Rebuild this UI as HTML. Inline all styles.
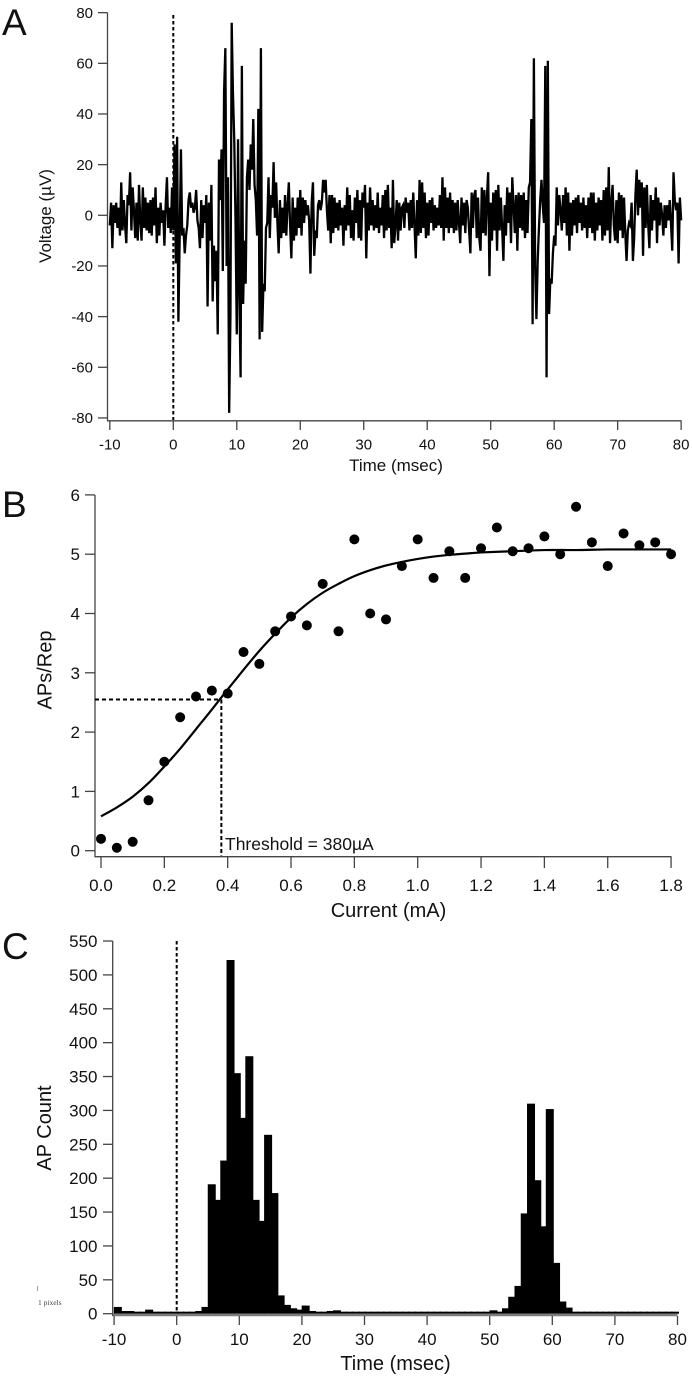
<!DOCTYPE html>
<html>
<head>
<meta charset="utf-8">
<title>Neural recording figure</title>
<style>
html,body{margin:0;padding:0;background:#fff;width:692px;height:1376px;overflow:hidden}
svg{display:block}
text{font-family:"Liberation Sans",Arial,sans-serif;fill:#111}
</style>
</head>
<body>
<svg id="figure" width="692" height="1376" viewBox="0 0 692 1376" xmlns="http://www.w3.org/2000/svg"></svg>
<script>
// Panel A data
const traceStart = -10;
const traceStep = 0.2;
const traceVoltage = [
-4,5,-13,4,-3, 5,-5,3,-8,13, -6,6,-4,-11,8, 4,17,-6,11,2, -9,5,-10,12,-2,
-10,11,-5,7,-6, 5,-7,6,-8,7, -4,11,-11,3,-8, 5,-3,2,-12,4, 15,-5,3,-7,11,
-6,28,-19,31,-42, -10,26,-8,-5,-15, -8,-4,6,9,3, 5,1,3,10,-2, -5,-13,6,-9,4,
-3,8,-36,5,-10, 12,-34,-12,-26,-14, -47,22,6,26,-22, 49,66,-20,15,-78, -40,76,48,30,-2,
-47,30,-30,-64,59, -35,-10,-27,15,22, 10,28,18,38,12, 6,-8,42,-49,66, -46,-27,-30,-5,-3,
15,-9,8,3,21, -1,13,-3,-15,6, -9,3,-7,8,-8, 4,13,-4,-17,7, -10,3,-8,7,-5,
10,-8,7,-3,6, 0,4,-2,-23,5, 13,-16,-6,-9,4, 6,2,5,14,9, 14,2,-6,8,-11,
8,-7,7,-5,5, -6,6,-4,3,-12, 4,-6,11,-4,8, -9,2,-10,7,-3, 10,-9,6,-10,9,
3,12,-17,5,-6, 11,-4,6,-6,4, -5,9,-7,3,-4, 8,-9,10,-6,12, -5,3,-13,14,-11,
-4,6,-10,5,-6, 3,4,-5,7,1, 5,-6,6,-5,9, -4,-17,6,-8,14, -7,13,-5,9,-9,
5,-8,6,-3,7, -6,4,-5,3,-4, 8,-5,15,-10,11, -5,7,-7,9,-5, 6,-7,5,-6,6,
-3,-11,7,-4,5, -7,6,3,-6,-15, 9,-5,8,10,-9, 7,-9,-14,11,-7, 10,-8,7,17,-24,
5,-10,9,-6,10, -14,12,-6,7,-5, -18,4,-8,11,-3, 9,-11,15,4,-7, 8,-14,9,-5,8,
-6,9,-9,6,-7, 11,13,38,-43,62, -20,-41,-18,-5,6, 14,4,-3,59,-64, 61,-39,-25,-27,-15,
-8,-12,11,-4,8, 2,-6,8,-3,11, -8,9,-14,5,-8, 6,-4,7,-7,8, -3,5,-6,7,-5,
4,-9,7,-5,9, -7,9,-10,5,-6, 7,-4,6,-10,10, -8,11,-6,19,-11, 5,12,-4,-10,6,
-11,9,-6,8,-9, 7,-7,-18,-6,-3, -4,5,-18,-9,8, 18,0,14,3,13, -16,11,-5,12,-3,
-13,8,-6,6,-2, 11,-11,7,-4,5, 0,-8,4,-5,4, -2,6,-3,-14,17, 6,2,5,-19,7,
-2
];
const panelAXTicks = [-10,0,10,20,30,40,50,60,70,80];
const panelAYTicks = [-80,-60,-40,-20,0,20,40,60,80];

// Panel B data
const currentValues = [0,0.05,0.1,0.15,0.2,0.25,0.3,0.35,0.4,0.45,0.5,0.55,0.6,0.65,0.7,0.75,0.8,0.85,0.9,0.95,1.0,1.05,1.1,1.15,1.2,1.25,1.3,1.35,1.4,1.45,1.5,1.55,1.6,1.65,1.7,1.75,1.8];
const apsPerRep = [0.2,0.05,0.15,0.85,1.5,2.25,2.6,2.7,2.65,3.35,3.15,3.7,3.95,3.8,4.5,3.7,5.25,4.0,3.9,4.8,5.25,4.6,5.05,4.6,5.1,5.45,5.05,5.1,5.3,5.0,5.8,5.2,4.8,5.35,5.15,5.2,5.0];
const fitCurrent = [0,0.05,0.1,0.15,0.2,0.25,0.3,0.35,0.4,0.45,0.5,0.55,0.6,0.65,0.7,0.75,0.8,0.85,0.9,0.95,1.0,1.05,1.1,1.15,1.2,1.3,1.4,1.5,1.6,1.7,1.8];
const fitAps = [0.58,0.73,0.91,1.14,1.42,1.72,2.05,2.38,2.72,3.05,3.37,3.66,3.93,4.16,4.35,4.5,4.63,4.73,4.81,4.87,4.92,4.96,4.99,5.01,5.03,5.05,5.07,5.07,5.08,5.08,5.08];
const thresholdCurrent = 0.38;
const thresholdAps = 2.55;
const panelBXTicks = ["0.0","0.2","0.4","0.6","0.8","1.0","1.2","1.4","1.6","1.8"];
const panelBYTicks = [0,1,2,3,4,5,6];

// Panel C data
const binStart = -9.4;
const binStep = 1;
const apCounts = [
10,4,4,3,3,6,3,3,3,3,
3,3,3,4,10,191,168,226,522,355,
289,380,168,137,264,178,27,13,8,6,
12,4,3,3,4,5,3,3,3,3,
3,3,3,3,3,3,3,3,3,3,
3,3,3,3,3,3,3,3,3,3,
5,3,8,25,41,148,310,197,129,302,
75,18,9,3,3,3,3,3,3,3,
3,3,3,3,3,3,3,3,3,3
];
const panelCXTicks = [-10,0,10,20,30,40,50,60,70,80];
const panelCYTicks = [0,50,100,150,200,250,300,350,400,450,500,550];

// Axis functions
const xA = t => 173.3 + t * 6.348;
const yA = v => 215.3 - v * 2.533;
const xB = c => 101 + c * 316.7;
const yB = v => 850.7 - v * 59.3;
const xC = t => 176.7 + t * 6.26;
const yC = v => 1313.7 - v * 0.6776;

const NS = 'http://www.w3.org/2000/svg';
const root = document.getElementById('figure');
const AXIS = '#444';

function node(tag, parent, attrs, content) {
  const el = document.createElementNS(NS, tag);
  for (const k in attrs) el.setAttribute(k, attrs[k]);
  if (content !== undefined) el.textContent = content;
  parent.appendChild(el);
  return el;
}
function group(parent) { return node('g', parent, {}); }
function line(parent, x1, y1, x2, y2, w, color, dash) {
  const a = {x1, y1, x2, y2, stroke: color || AXIS, 'stroke-width': w || 1.3};
  if (dash) a['stroke-dasharray'] = dash;
  return node('line', parent, a);
}
function label(parent, x, y, size, anchor, str, rot) {
  const a = {x, y, 'font-size': size, 'text-anchor': anchor};
  if (rot) a.transform = 'rotate(-90 ' + x + ' ' + y + ')';
  return node('text', parent, a, str);
}
function smoothPath(xs, ys) {
  let d = 'M' + xs[0].toFixed(2) + ' ' + ys[0].toFixed(2);
  for (let i = 0; i < xs.length - 1; i++) {
    const p0 = Math.max(i - 1, 0), p3 = Math.min(i + 2, xs.length - 1);
    const c1x = xs[i] + (xs[i + 1] - xs[p0]) / 6, c1y = ys[i] + (ys[i + 1] - ys[p0]) / 6;
    const c2x = xs[i + 1] - (xs[p3] - xs[i]) / 6, c2y = ys[i + 1] - (ys[p3] - ys[i]) / 6;
    d += 'C' + c1x.toFixed(2) + ' ' + c1y.toFixed(2) + ' ' + c2x.toFixed(2) + ' ' + c2y.toFixed(2) + ' ' + xs[i + 1].toFixed(2) + ' ' + ys[i + 1].toFixed(2);
  }
  return d;
}

// ---------- Panel A ----------
const pa = group(root);


let el;
el = label(pa, 2, 35, 37, 'start', 'A');


el = line(pa, 107.5, 12.5, 107.5, 421);


el = line(pa, 107, 420.8, 681.5, 420.8);


panelAYTicks.forEach(v => {
  const t = line(pa, 98, yA(v), 107.5, yA(v));
  
  
  const l = label(pa, 93, yA(v) + 5.2, 15, 'end', String(v));
  
  
});
panelAXTicks.forEach(v => {
  const t = line(pa, xA(v), 420.8, xA(v), 430);
  
  
  const l = label(pa, xA(v), 449.5, 15, 'middle', String(v));
  
  
});
el = label(pa, 396, 471, 17, 'middle', 'Time (msec)');


el = label(pa, 51, 216, 17, 'middle', 'Voltage (\u00b5V)', true);


el = line(pa, xA(0), 15, xA(0), 420, 2, '#000', '3.5 2.5');


el = node('polyline', pa, {
  points: traceVoltage.map((v, i) => xA(traceStart + i * traceStep).toFixed(2) + ',' + yA(v).toFixed(2)).join(' '),
  fill: 'none', stroke: '#000', 'stroke-width': 2.3, 'stroke-linejoin': 'miter', 'stroke-miterlimit': 4
});



// ---------- Panel B ----------
const pb = group(root);


el = label(pb, 2, 517, 37, 'start', 'B');


el = line(pb, 95, 495, 95, 857.2);


el = line(pb, 94.5, 856.7, 671.5, 856.7);


panelBYTicks.forEach(v => {
  const t = line(pb, 85, yB(v), 95, yB(v));
  
  
  const l = label(pb, 80, yB(v) + 6, 17, 'end', String(v));
  
  
});
panelBXTicks.forEach(v => {
  const t = line(pb, xB(+v), 856.7, xB(+v), 868);
  
  
  const l = label(pb, xB(+v), 891, 17, 'middle', v);
  
  
});
el = label(pb, 388.5, 917, 20, 'middle', 'Current (mA)');


el = label(pb, 51.5, 670, 20, 'middle', 'APs/Rep', true);


el = line(pb, 95, yB(thresholdAps), xB(thresholdCurrent), yB(thresholdAps), 2, '#000', '4 3');


el = line(pb, xB(thresholdCurrent), yB(thresholdAps), xB(thresholdCurrent), 856, 2, '#000', '4 2.5');


el = label(pb, 225, 850, 17.5, 'start', 'Threshold = 380\u00b5A');


el = node('path', pb, {
  d: smoothPath(fitCurrent.map(xB), fitAps.map(yB)),
  fill: 'none', stroke: '#000', 'stroke-width': 2.2, 'stroke-linejoin': 'round'
});


currentValues.forEach((c, i) => {
  const d = node('circle', pb, {cx: xB(c), cy: yB(apsPerRep[i]), r: 5, fill: '#000'});
  
  
});

// ---------- Panel C ----------
const pc = group(root);


el = label(pc, 2, 959, 37, 'start', 'C');


apCounts.forEach((n, i) => {
  const cx = xC(binStart + i * binStep);
  const b = node('rect', pc, {x: cx - 4, y: yC(n), width: 8, height: yC(0) - yC(n), fill: '#000'});
  
  
});
el = line(pc, 112.7, 1314.9, 677.5, 1314.9, 2.6, '#7c7c7c');


el = line(pc, 112.7, 941, 112.7, 1316);


panelCYTicks.forEach(v => {
  const t = line(pc, 103, yC(v), 112.7, yC(v));
  
  
  const l = label(pc, 97.5, yC(v) + 6, 17, 'end', String(v));
  
  
});
panelCXTicks.forEach(v => {
  const t = line(pc, xC(v), 1316, xC(v), 1325);
  
  
  const l = label(pc, xC(v), 1345, 17, 'middle', String(v));
  
  
});
el = label(pc, 395.5, 1370, 20, 'middle', 'Time (msec)');


el = label(pc, 51, 1128, 20, 'middle', 'AP Count', true);


el = line(pc, xC(0), 941, xC(0), 1313, 2, '#000', '3.5 2.5');


el = line(pc, 37.5, 1286, 37.5, 1291, 0.7, '#777');


el = node('text', pc, {x: 38, y: 1305, 'font-size': 7.5, style: 'font-family:"Liberation Serif",serif;fill:#444'}, '1 pixels');


</script>
</body>
</html>
